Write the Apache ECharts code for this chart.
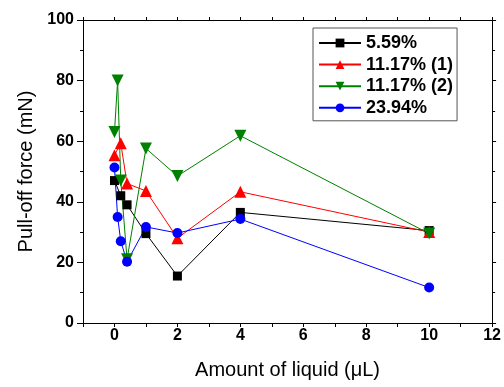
<!DOCTYPE html>
<html>
<head>
<meta charset="utf-8">
<script src="https://cdn.jsdelivr.net/npm/echarts@6/dist/echarts.min.js"></script>
<style>
  html, body { margin: 0; padding: 0; background: #fff; }
  #chart { width: 504px; height: 387px; }
</style>
</head>
<body>
<div id="chart"></div>
<script>
// liquid amount (uL) and pull-off force (mN)
const names = ["5.59%", "11.17% (1)", "11.17% (2)", "23.94%"];
const xBlack = [0, 0.2, 0.4, 1, 2, 4, 10];
const yBlack = [47, 42, 39, 29.5, 15.5, 36.5, 30.5];
const xRed = [0, 0.2, 0.4, 1, 2, 4, 10];
const yRed = [55.4, 59.3, 46, 43.6, 28, 43.3, 30];
const xGreen = [0, 0.1, 0.2, 0.4, 1, 2, 4, 10];
const yGreen = [63, 80, 47, 21, 57.6, 48.5, 61.8, 29.5];
const xBlue = [0, 0.1, 0.2, 0.4, 1, 2, 4, 10];
const yBlue = [51.3, 35, 27, 20.2, 31.7, 29.7, 34.3, 11.7];

const pairs = (xs, ys) => xs.map((x, i) => [x, ys[i]]);
const font = "'Liberation Sans', Arial, sans-serif";

const myChart = echarts.init(document.getElementById("chart"));

const line = (name, xs, ys, color, symbol, size, rotate) => ({
  name,
  type: "line",
  data: pairs(xs, ys),
  symbol,
  symbolSize: size,
  symbolRotate: rotate || 0,
  itemStyle: { color },
  lineStyle: { color, width: 1 },
  emphasis: { disabled: true },
  animation: false,
});

myChart.setOption({
  backgroundColor: "#fff",
  textStyle: { fontFamily: font },
  grid: { left: 83, right: 9, top: 20, bottom: 64 },
  legend: {
    orient: "vertical",
    left: 313,
    top: 28,
    padding: [6, 4, 4, 5],
    itemGap: 3.6,
    itemWidth: 42,
    itemHeight: 11,
    borderColor: "#555",
    borderWidth: 1,
    textStyle: { fontFamily: font, fontSize: 18, fontWeight: "bold", color: "#000" },
    data: names,
  },
  xAxis: [
    {
      type: "value",
      min: -1,
      max: 12,
      interval: 1,
      name: "Amount of liquid (\u03bcL)",
      nameLocation: "middle",
      nameGap: 37,
      nameTextStyle: { fontSize: 20, color: "#000", fontFamily: font },
      axisLine: { onZero: false, lineStyle: { color: "#000", width: 1 } },
      axisTick: { length: 4, lineStyle: { color: "#000" } },
      axisLabel: {
        margin: 5,
        fontSize: 16,
        fontWeight: "bold",
        color: "#000",
        formatter: (v) => (v >= 0 && v % 2 === 0 ? String(v) : ""),
      },
      splitLine: { show: false },
    },
    {
      type: "value",
      position: "top",
      min: -1,
      max: 12,
      interval: 1,
      axisLine: { onZero: false, lineStyle: { color: "#000", width: 1 } },
      axisTick: { length: 3, lineStyle: { color: "#000" } },
      axisLabel: { show: false },
      splitLine: { show: false },
    },
  ],
  yAxis: [
    {
      type: "value",
      min: 0,
      max: 100,
      interval: 20,
      name: "Pull-off force (mN)",
      nameLocation: "middle",
      nameGap: 46,
      nameTextStyle: { fontSize: 20, color: "#000", fontFamily: font },
      axisLine: { show: true, onZero: false, lineStyle: { color: "#000", width: 1 } },
      axisTick: { length: 6, lineStyle: { color: "#000" } },
      minorTick: { show: true, splitNumber: 2, length: 3, lineStyle: { color: "#000" } },
      axisLabel: { margin: 9, fontSize: 16, fontWeight: "bold", color: "#000" },
      splitLine: { show: false },
    },
    {
      type: "value",
      position: "right",
      min: 0,
      max: 100,
      interval: 20,
      axisLine: { show: true, onZero: false, lineStyle: { color: "#000", width: 1 } },
      axisTick: { length: 4, lineStyle: { color: "#000" } },
      minorTick: { show: true, splitNumber: 2, length: 3, lineStyle: { color: "#000" } },
      axisLabel: { show: false },
      splitLine: { show: false },
    },
  ],
  series: [
    line(names[0], xBlack, yBlack, "#000000", "rect", 9),
    line(names[1], xRed, yRed, "#ff0000", "triangle", 12),
    line(names[2], xGreen, yGreen, "#008000", "triangle", 12, 180),
    line(names[3], xBlue, yBlue, "#0000ff", "circle", 10),
  ],
});
</script>
</body>
</html>
